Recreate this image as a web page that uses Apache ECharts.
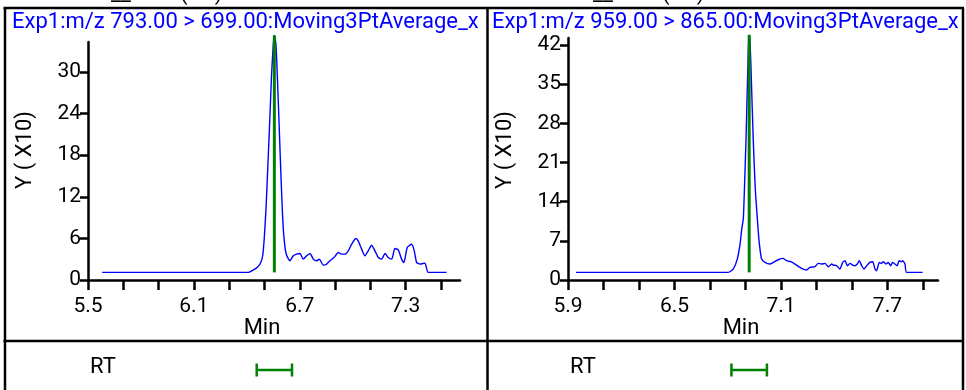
<!DOCTYPE html>
<html><head><meta charset="utf-8">
<script src="https://cdn.jsdelivr.net/npm/echarts@6.0.0/dist/echarts.min.js"></script>
<style>html,body{margin:0;padding:0;background:#fff}#c{width:966px;height:390px}</style>
</head><body><div id="c"></div>
<script>
// ---------- data ----------
const leftTitle = 'Exp1:m/z 793.00 > 699.00:Moving3PtAverage_x';
const rightTitle = 'Exp1:m/z 959.00 > 865.00:Moving3PtAverage_x';
const leftTime = [5.58, 6.41, 6.44, 6.46, 6.475, 6.49, 6.50, 6.51, 6.52, 6.53, 6.54, 6.55, 6.556, 6.565, 6.575, 6.585, 6.595, 6.605, 6.615, 6.625, 6.644, 6.663, 6.682, 6.701, 6.720, 6.739, 6.758, 6.777, 6.796, 6.811, 6.833, 6.852, 6.871, 6.899, 6.918, 6.937, 6.956, 6.975, 6.994, 7.018, 7.031, 7.051, 7.069, 7.088, 7.107, 7.126, 7.145, 7.164, 7.183, 7.201, 7.221, 7.239, 7.258, 7.277, 7.290, 7.309, 7.334, 7.349, 7.362, 7.381, 7.409, 7.428, 7.532];
const leftIntensity = [1.1, 1.1, 1.5, 1.85, 2.3, 3.5, 6.5, 11, 17, 23, 29.5, 34, 35.3, 34, 28, 21, 14, 8, 5, 3.6, 2.77, 3.49, 3.73, 3.83, 3.01, 3.49, 3.83, 3.01, 2.77, 3.01, 2.15, 2.3, 2.77, 3.4, 3.97, 3.73, 3.73, 4.21, 5.16, 5.98, 5.64, 4.45, 3.49, 4.21, 5.02, 4.21, 3.25, 3.01, 3.83, 3.25, 3.01, 4.54, 4.35, 3.01, 2.54, 4.69, 5.16, 4.21, 2.54, 2.3, 2.44, 1.1, 1.1];
const rightTime = [5.945, 6.803, 6.831, 6.854, 6.870, 6.879, 6.888, 6.895, 6.903, 6.911, 6.917, 6.921, 6.926, 6.933, 6.944, 6.955, 6.967, 6.975, 6.982, 6.991, 7.010, 7.038, 7.057, 7.085, 7.110, 7.132, 7.155, 7.179, 7.207, 7.226, 7.245, 7.263, 7.292, 7.310, 7.329, 7.348, 7.367, 7.386, 7.395, 7.414, 7.432, 7.448, 7.461, 7.474, 7.489, 7.504, 7.517, 7.530, 7.541, 7.555, 7.568, 7.583, 7.601, 7.617, 7.630, 7.639, 7.654, 7.667, 7.676, 7.692, 7.704, 7.718, 7.729, 7.742, 7.755, 7.766, 7.780, 7.786, 7.799, 7.808, 7.898];
const rightIntensity = [1.37, 1.37, 1.96, 3.74, 6.5, 9.1, 11, 17, 25, 35, 42, 43.8, 42.5, 36, 25, 16.5, 10.9, 7.5, 5.5, 3.74, 3.15, 2.85, 3.15, 3.62, 3.86, 3.45, 3.27, 2.85, 2.26, 1.96, 1.78, 2.26, 2.38, 2.97, 2.85, 2.97, 2.38, 2.85, 2.67, 2.55, 1.96, 3.15, 3.45, 2.55, 2.97, 2.67, 2.55, 2.85, 3.45, 2.55, 1.96, 2.55, 3.15, 3.27, 1.96, 1.66, 3.15, 2.97, 3.27, 2.85, 3.15, 2.55, 3.15, 2.85, 2.55, 3.45, 3.27, 3.45, 2.85, 1.37, 1.37];
const leftRt = 6.556;
const rightRt = 6.921;
const rtHalfWindow = 0.1;
const leftXRange = [5.5, 7.608];
const rightXRange = [5.9, 7.985];
const leftYMax = 34.34;
const rightYMax = 43.25;
const leftXTicks = [5.5, 5.7, 5.9, 6.1, 6.3, 6.5, 6.7, 6.9, 7.1, 7.3, 7.5];
const leftXLabels = [5.5, 6.1, 6.7, 7.3];
const rightXTicks = [5.9, 6.1, 6.3, 6.5, 6.7, 6.9, 7.1, 7.3, 7.5, 7.7, 7.9];
const rightXLabels = [5.9, 6.5, 7.1, 7.7];
const leftYTicks = [0, 6, 12, 18, 24, 30];
const rightYTicks = [0, 7, 14, 21, 28, 35, 42];
const yAxisTitle = 'Y ( X10)';
const xAxisTitle = 'Min';
const rtLabel = 'RT';
// only the descenders of a header cut off above the frame are visible in the source
const clippedHeader = '__         (     )';

// ---------- styling ----------
const FONT = 'Roboto';
const BLACK = '#000';
const BLUE = '#0000ff';
const GREEN = '#008000';

function zip(a, b) { return a.map((v, i) => [v, b[i]]); }

function mainX(gi, range, ticks, labels) {
  return {
    gridIndex: gi, type: 'value', min: range[0], max: range[1],
    axisLine: { show: true, onZero: false, lineStyle: { color: BLACK, width: 2.5 } },
    axisTick: { show: true, customValues: ticks, length: 10, lineStyle: { color: BLACK, width: 2.5 } },
    axisLabel: { show: true, customValues: labels, margin: 16, color: BLACK, fontFamily: FONT, fontSize: 21,
      formatter: v => v.toFixed(1) },
    splitLine: { show: false }
  };
}
function mainY(gi, max, ticks) {
  return {
    gridIndex: gi, type: 'value', min: 0, max: max,
    axisLine: { show: true, lineStyle: { color: BLACK, width: 2.5 } },
    axisTick: { show: true, customValues: ticks, length: 8, lineStyle: { color: BLACK, width: 2.5 } },
    axisLabel: { show: true, customValues: ticks, margin: 7, color: BLACK, fontFamily: FONT, fontSize: 21 },
    splitLine: { show: false }
  };
}
function hiddenX(gi, range) {
  return { gridIndex: gi, type: 'value', min: range[0], max: range[1], show: false };
}
function hiddenY(gi) {
  return { gridIndex: gi, type: 'value', min: 0, max: 1, show: false };
}
function trace(ai, t, v) {
  return { type: 'line', xAxisIndex: ai, yAxisIndex: ai, data: zip(t, v), showSymbol: false, symbol: 'none',
    clip: false, smooth: 0.2, lineStyle: { color: BLUE, width: 1.4 }, z: 3, silent: true };
}
function rtLine(ai, rt, v) {
  const lo = v[0], hi = Math.max.apply(null, v);
  return { type: 'line', xAxisIndex: ai, yAxisIndex: ai, data: [[rt, lo], [rt, hi]], showSymbol: false, symbol: 'none',
    clip: false, lineStyle: { color: GREEN, width: 3 }, z: 4, silent: true };
}
function bracket(ai, rt) {
  return {
    type: 'custom', xAxisIndex: ai, yAxisIndex: ai, silent: true,
    data: [[rt - rtHalfWindow, rt + rtHalfWindow]],
    renderItem: function (params, api) {
      const p1 = api.coord([api.value(0), 0.5]);
      const p2 = api.coord([api.value(1), 0.5]);
      const h = 6.5;
      const st = { stroke: GREEN, lineWidth: 2.5 };
      return { type: 'group', children: [
        { type: 'line', shape: { x1: p1[0], y1: p1[1], x2: p2[0], y2: p2[1] }, style: st },
        { type: 'line', shape: { x1: p1[0], y1: p1[1] - h, x2: p1[0], y2: p1[1] + h }, style: st },
        { type: 'line', shape: { x1: p2[0], y1: p2[1] - h, x2: p2[0], y2: p2[1] + h }, style: st }
      ] };
    }
  };
}
function gline(x1, y1, x2, y2, w) {
  return { type: 'line', shape: { x1, y1, x2, y2 }, style: { stroke: BLACK, lineWidth: w }, z: 10, silent: true };
}
function gtext(x, y, text, opts) {
  opts = opts || {};
  return { type: 'text', x: x, y: y, rotation: opts.rotation || 0, z: 10, silent: true,
    style: { text: text, fill: opts.color || BLACK, font: (opts.size || 20) + 'px ' + FONT,
      align: opts.align || 'left', verticalAlign: opts.va || 'top', whiteSpace: 'pre' } };
}

const chart = echarts.init(document.getElementById('c'), null, { renderer: 'canvas' });
chart.setOption({
  animation: false,
  backgroundColor: '#fff',
  grid: [
    { left: 88, top: 42, width: 372, height: 238 },
    { left: 568, top: 38, width: 370, height: 242 },
    { left: 88, top: 355, width: 372, height: 30 },
    { left: 568, top: 355, width: 370, height: 30 }
  ],
  xAxis: [
    mainX(0, leftXRange, leftXTicks, leftXLabels),
    mainX(1, rightXRange, rightXTicks, rightXLabels),
    hiddenX(2, leftXRange),
    hiddenX(3, rightXRange)
  ],
  yAxis: [
    mainY(0, leftYMax, leftYTicks),
    mainY(1, rightYMax, rightYTicks),
    hiddenY(2),
    hiddenY(3)
  ],
  series: [
    trace(0, leftTime, leftIntensity),
    trace(1, rightTime, rightIntensity),
    rtLine(0, leftRt, leftIntensity),
    rtLine(1, rightRt, rightIntensity),
    bracket(2, leftRt),
    bracket(3, rightRt)
  ],
  graphic: [
    gline(3.5, 8, 964, 8, 2.5),
    gline(5, 8, 5, 390, 2.5),
    gline(963, 8, 963, 390, 2.5),
    gline(487.5, 8, 487.5, 390, 2.5),
    gline(3.5, 341, 964, 341, 2.5),
    gtext(111, 5, clippedHeader, { align: 'left', va: 'bottom', size: 22 }),
    gtext(593, 5, clippedHeader, { align: 'left', va: 'bottom', size: 22 }),
    gtext(12, 11, leftTitle, { color: BLUE, size: 22 }),
    gtext(492, 11, rightTitle, { color: BLUE, size: 22 }),
    gtext(25, 150, yAxisTitle, { rotation: Math.PI / 2, align: 'center', va: 'middle', size: 22 }),
    gtext(505, 150, yAxisTitle, { rotation: Math.PI / 2, align: 'center', va: 'middle', size: 22 }),
    gtext(262, 317, xAxisTitle, { align: 'center', size: 22 }),
    gtext(741, 317, xAxisTitle, { align: 'center', size: 22 }),
    gtext(90, 356, rtLabel, { size: 22 }),
    gtext(570, 356, rtLabel, { size: 22 })
  ]
});
</script>
</body></html>
